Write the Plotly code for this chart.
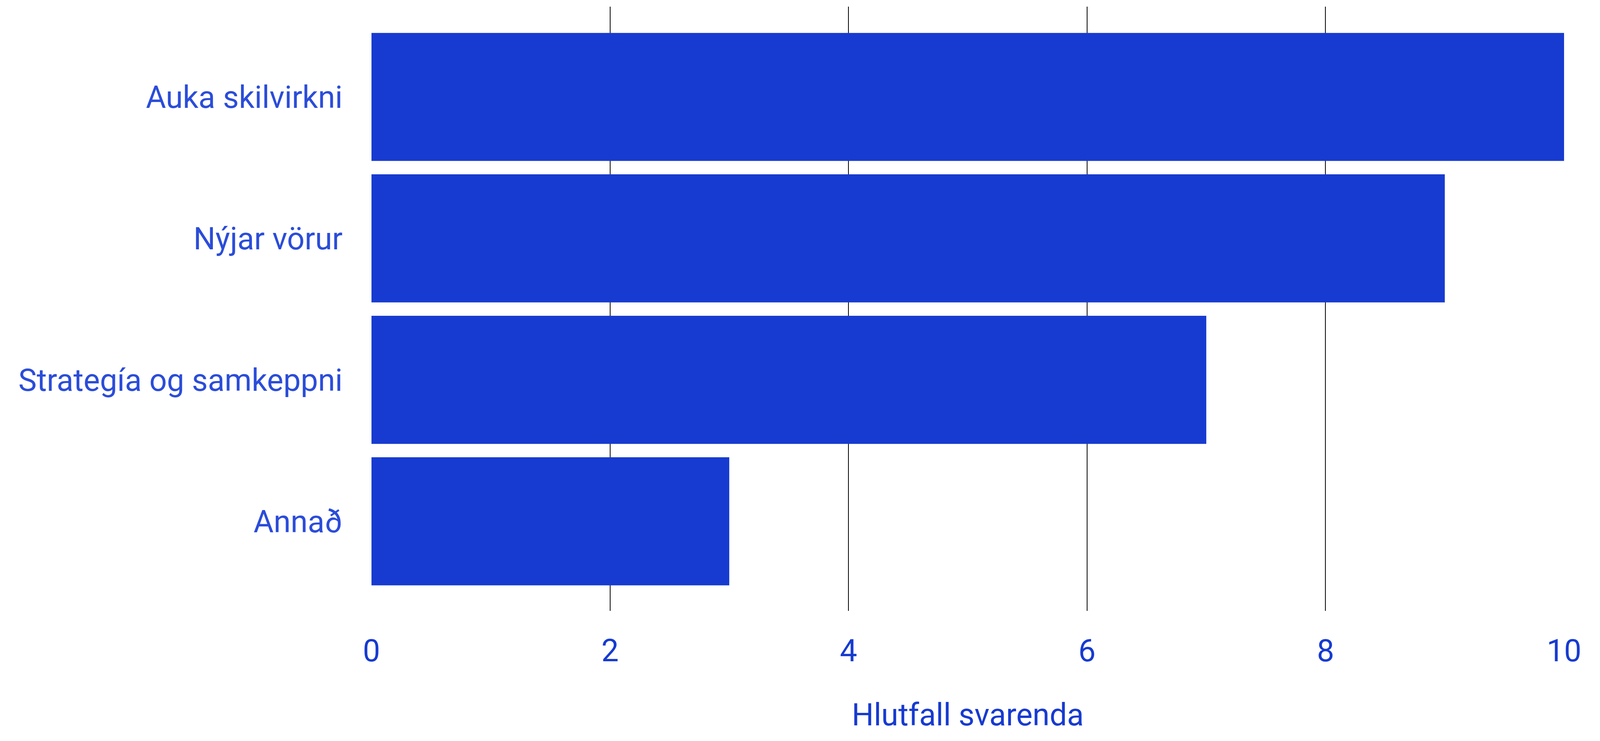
import plotly.graph_objects as go

categories = ["Auka skilvirkni", "Nýjar vörur", "Strategía og samkeppni", "Annað"]
values = [10, 9, 7, 3]
x_ticks = [0, 2, 4, 6, 8, 10]
x_title = "Hlutfall svarenda"

BLUE = "#173BD0"
LABEL_BLUE = "#2B4DD9"
FONT = "Roboto"

# Base design in reference pixels (4768 x 1896)
BASE_W, BASE_H = 4768, 1896
M_L, M_R, M_T, M_B = 1107, 107, 17, 333
FONT_SIZE = 92
XTICK_STANDOFF = 49
XTITLE_STANDOFF = 90
YTICK_STANDOFF = 85

fig = go.Figure(
    go.Bar(
        x=values,
        y=categories,
        orientation="h",
        marker=dict(color=BLUE, line=dict(width=0)),
        hoverinfo="x+y",
    )
)

fig.update_layout(
    width=BASE_W,
    height=BASE_H,
    margin=dict(l=M_L, r=M_R, t=M_T, b=M_B, pad=0),
    paper_bgcolor="white",
    plot_bgcolor="white",
    bargap=0.095,
    showlegend=False,
    font=dict(family=FONT, size=FONT_SIZE, color=BLUE),
)

fig.update_xaxes(
    range=[0, 10],
    tickvals=x_ticks,
    showgrid=True,
    gridcolor="black",
    gridwidth=2.5,
    zeroline=False,
    showline=False,
    ticks="",
    ticklabelstandoff=XTICK_STANDOFF,
    tickfont=dict(family=FONT, size=FONT_SIZE, color=BLUE),
    title=dict(text=x_title, font=dict(family=FONT, size=FONT_SIZE, color=BLUE), standoff=XTITLE_STANDOFF),
    layer="below traces",
)

fig.update_yaxes(
    type="category",
    categoryorder="array",
    categoryarray=categories,
    range=[3.633, -0.638],
    showgrid=False,
    zeroline=False,
    showline=False,
    ticks="",
    ticklabelstandoff=YTICK_STANDOFF,
    tickfont=dict(family=FONT, size=FONT_SIZE, color=LABEL_BLUE),
)

# Fit the figure to the actual browser viewport, scaling pixel sizes accordingly
post_js = f"""
(function() {{
  var gd = document.getElementById('{{plot_id}}');
  document.documentElement.style.margin = '0';
  document.documentElement.style.overflow = 'hidden';
  document.body.style.margin = '0';
  document.body.style.overflow = 'hidden';
  var W = window.innerWidth, H = window.innerHeight;
  var sx = W / {BASE_W}, sy = H / {BASE_H};
  var fs = Math.round({FONT_SIZE} * sx);
  Plotly.relayout(gd, {{
    'width': W,
    'height': H,
    'margin.l': Math.round({M_L} * sx),
    'margin.r': Math.round({M_R} * sx),
    'margin.t': Math.round({M_T} * sy),
    'margin.b': Math.round({M_B} * sy),
    'font.size': fs,
    'xaxis.tickfont.size': fs,
    'xaxis.title.font.size': fs,
    'yaxis.tickfont.size': fs,
    'xaxis.gridwidth': Math.max(1, 2.5 * sx),
    'xaxis.ticklabelstandoff': Math.round({XTICK_STANDOFF} * sy),
    'xaxis.title.standoff': Math.round({XTITLE_STANDOFF} * sy),
    'yaxis.ticklabelstandoff': Math.round({YTICK_STANDOFF} * sx)
  }});
}})();
"""

fig.write_html("out.html", post_script=post_js, config={"displayModeBar": False})
